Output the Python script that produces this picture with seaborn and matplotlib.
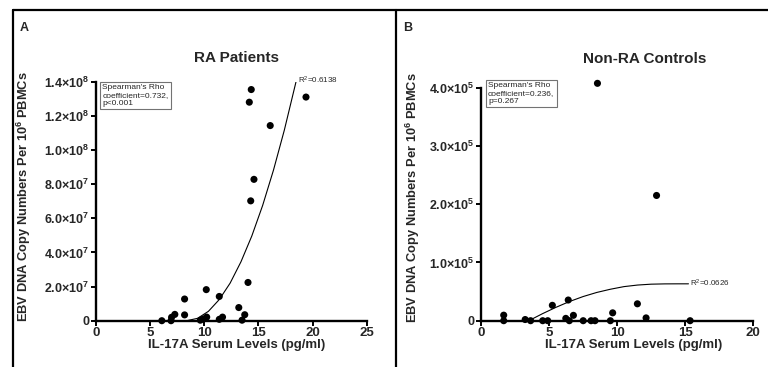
import numpy as np
import pandas as pd
import matplotlib
matplotlib.use("Agg")
import matplotlib.pyplot as plt
from matplotlib.lines import Line2D
import seaborn as sns

# Panel A: RA patients (IL-17A pg/ml vs EBV copies per 10^6 PBMCs)
ra_il17 = [6.1, 6.95, 7.0, 7.3, 8.2, 8.2, 9.65, 9.93, 10.2, 10.24, 11.4, 11.4,
           11.7, 13.2, 13.5, 13.75, 14.05, 14.3, 14.6, 14.17, 14.35, 16.1, 19.4]
ra_ebv = [0, 0, 2.0e6, 3.7e6, 1.27e7, 3.4e6, 0.3e6, 1.0e6, 1.82e7, 2.1e6, 1.42e7, 0.8e6,
          2.1e6, 7.7e6, 0.3e6, 3.5e6, 2.24e7, 7.02e7, 8.28e7, 1.28e8, 1.354e8, 1.143e8, 1.31e8]
ra_fit_x = [8.4, 9.4, 10.4, 11.4, 12.4, 13.4, 14.4, 15.4, 16.4, 17.4, 18.5]
ra_fit_y = [0, 1.4e6, 5.5e6, 1.24e7, 2.2e7, 3.45e7, 4.96e7, 6.75e7, 8.82e7, 1.116e8, 1.405e8]

# Panel B: non-RA controls
ctrl_il17 = [1.65, 1.65, 3.23, 3.63, 4.52, 4.89, 5.23, 6.22, 6.4, 6.48, 6.78, 7.5,
             8.08, 8.37, 8.55, 9.5, 9.67, 11.49, 12.13, 12.9, 15.37]
ctrl_ebv = [9.5e3, 0, 2.0e3, 0, 0, 0, 2.64e4, 4.0e3, 3.55e4, 0, 9.2e3, 0,
            0, 0, 4.075e5, 0, 1.35e4, 2.9e4, 4.8e3, 2.15e5, 0]
ctrl_fit_x = [3.5, 4.5, 5.5, 6.5, 7.5, 8.5, 9.5, 10.5, 11.5, 12.5, 13.5, 14.5, 15.25]
ctrl_fit_y = [0, 1.2e4, 2.3e4, 3.3e4, 4.15e4, 4.85e4, 5.4e4, 5.85e4, 6.12e4, 6.27e4, 6.32e4, 6.33e4, 6.33e4]

ra_yticks = [0, 2e7, 4e7, 6e7, 8e7, 1.0e8, 1.2e8, 1.4e8]
ra_ylabels = ["0", "2.0×10$^{7}$", "4.0×10$^{7}$", "6.0×10$^{7}$", "8.0×10$^{7}$",
              "1.0×10$^{8}$", "1.2×10$^{8}$", "1.4×10$^{8}$"]
ctrl_yticks = [0, 1e5, 2e5, 3e5, 4e5]
ctrl_ylabels = ["0", "1.0×10$^{5}$", "2.0×10$^{5}$", "3.0×10$^{5}$", "4.0×10$^{5}$"]

sns.set_style("ticks")
plt.rcParams["font.family"] = ["Liberation Sans", "DejaVu Sans"]
plt.rcParams["mathtext.fontset"] = "custom"
plt.rcParams["mathtext.rm"] = "Liberation Sans"
plt.rcParams["mathtext.bf"] = "Liberation Sans:bold"
plt.rcParams["mathtext.default"] = "regular"

W, H = 768, 367
fig = plt.figure(figsize=(W / 100, H / 100), dpi=100)


def px_axes(left, right, bottom, top):
    return fig.add_axes([left / W, 1 - bottom / H, (right - left) / W, (bottom - top) / H])


def style_axes(ax, xmax, xticks, yticks, ylabels, ymax):
    ax.set_xlim(0, xmax)
    ax.set_ylim(0, ymax)
    sns.despine(ax=ax)
    for s in ("left", "bottom"):
        ax.spines[s].set_linewidth(1.7)
        ax.spines[s].set_color("black")
    ax.set_xticks(xticks)
    ax.set_xticklabels([str(t) for t in xticks], fontsize=9.5, fontweight="bold")
    ax.set_yticks(yticks)
    ax.set_yticklabels(ylabels, fontsize=9, fontweight="bold")
    ax.tick_params(direction="out", length=3.5, width=1.4, color="black", pad=1.2)
    ax.set_xlabel("IL-17A Serum Levels (pg/ml)", fontsize=9.5, fontweight="bold")
    ax.set_ylabel("EBV DNA Copy Numbers Per 10$^{6}$ PBMCs", fontsize=9.3, fontweight="bold")


# ---- Panel A
axA = px_axes(95.7, 366.7, 320.7, 81.7)
dfA = pd.DataFrame({"il17": ra_il17, "ebv": ra_ebv})
sns.scatterplot(data=dfA, x="il17", y="ebv", ax=axA, color="black", s=26,
                edgecolor="none", clip_on=False, zorder=5)
axA.plot(ra_fit_x, ra_fit_y, color="black", lw=0.8)
style_axes(axA, 25, [0, 5, 10, 15, 20, 25], ra_yticks, ra_ylabels, 1.4e8)
axA.xaxis.set_label_coords(0.52, -0.075)
axA.yaxis.set_label_coords(-0.232, 0.52)
axA.text(0.025, 0.99, "Spearman's Rho\ncoefficient=0.732,\np<0.001", transform=axA.transAxes,
         fontsize=6, va="top", ha="left", linespacing=1.15,
         bbox=dict(boxstyle="square,pad=0.3", fc="white", ec="0.45", lw=0.8))
axA.text(ra_fit_x[-1] + 0.15, ra_fit_y[-1], "R$^{2}$=0.6138", fontsize=5.8,
         va="center", ha="left")

# ---- Panel B
axB = px_axes(481.3, 753, 320.7, 87.7)
dfB = pd.DataFrame({"il17": ctrl_il17, "ebv": ctrl_ebv})
sns.scatterplot(data=dfB, x="il17", y="ebv", ax=axB, color="black", s=26,
                edgecolor="none", clip_on=False, zorder=5)
axB.plot(ctrl_fit_x, ctrl_fit_y, color="black", lw=0.8)
style_axes(axB, 20, [0, 5, 10, 15, 20], ctrl_yticks, ctrl_ylabels, 4e5)
axB.xaxis.set_label_coords(0.56, -0.08)
axB.yaxis.set_label_coords(-0.218, 0.53)
axB.text(0.025, 1.023, "Spearman's Rho\ncoefficient=0.236,\np=0.267", transform=axB.transAxes,
         fontsize=6, va="top", ha="left", linespacing=1.15,
         bbox=dict(boxstyle="square,pad=0.3", fc="white", ec="0.45", lw=0.8))
axB.text(ctrl_fit_x[-1] + 0.12, ctrl_fit_y[-1], "R$^{2}$=0.0626", fontsize=5.8,
         va="center", ha="left")

# ---- Titles, panel letters and frame
fig.text(236 / W, 1 - 58 / H, "RA Patients", fontsize=11, fontweight="bold", ha="center", va="center")
fig.text(645 / W, 1 - 59 / H, "Non-RA Controls", fontsize=11, fontweight="bold", ha="center", va="center")
fig.text(20 / W, 1 - 28 / H, "A", fontsize=9, fontweight="bold", ha="left", va="center")
fig.text(403 / W, 1 - 28 / H, "B", fontsize=9, fontweight="bold", ha="left", va="center")

frame_kw = dict(color="black", lw=1.6, transform=fig.transFigure)
fig.add_artist(Line2D([13 / W, 1], [1 - 10 / H, 1 - 10 / H], **frame_kw))
fig.add_artist(Line2D([13 / W, 13 / W], [1 - 10 / H, 0], **frame_kw))
fig.add_artist(Line2D([395.7 / W, 395.7 / W], [1 - 10 / H, 0], **frame_kw))

fig.savefig("out.png", dpi=100)
